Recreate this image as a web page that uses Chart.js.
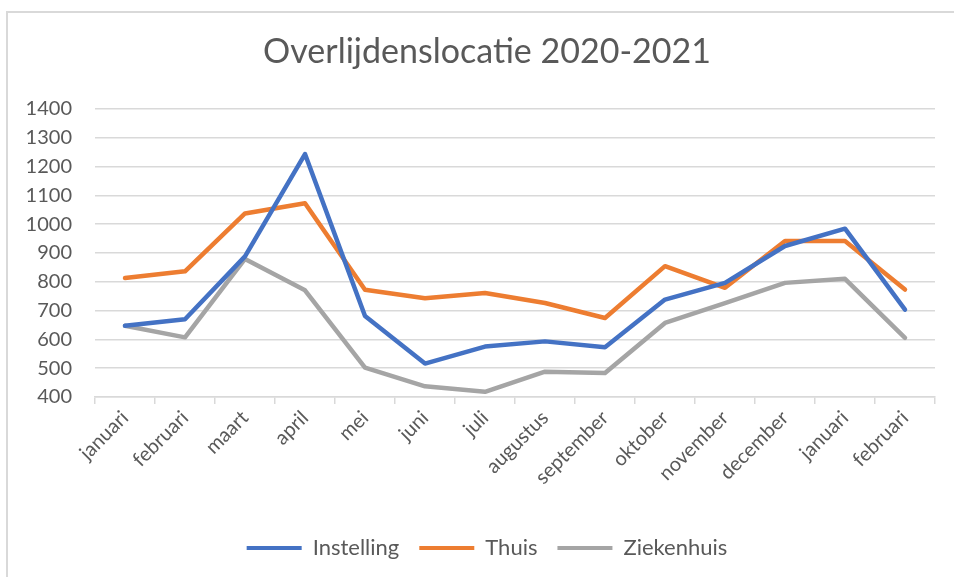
<!DOCTYPE html>
<html>
<head>
<meta charset="utf-8">
<script src="https://cdn.jsdelivr.net/npm/chart.js@4/dist/chart.umd.min.js"></script>
<style>
  html, body { margin: 0; padding: 0; background: #ffffff; }
  #wrap { position: relative; width: 954px; height: 577px; }
</style>
</head>
<body>
<div id="wrap"><canvas id="c" width="954" height="577"></canvas></div>
<script>
const categories = ["januari", "februari", "maart", "april", "mei", "juni", "juli", "augustus", "september", "oktober", "november", "december", "januari", "februari"];
const instelling = [647, 670, 888, 1243, 681, 516, 575, 593, 573, 738, 796, 924, 984, 703];
const thuis = [813, 836, 1037, 1072, 772, 743, 761, 726, 674, 854, 779, 941, 941, 773];
const ziekenhuis = [647, 607, 879, 770, 502, 437, 418, 488, 483, 657, 726, 796, 810, 605];
const seriesNames = ["Instelling", "Thuis", "Ziekenhuis"];
const titleText = "Overlijdenslocatie 2020-2021";
const yMin = 400, yMax = 1400, yStep = 100;

const colors = ["#4472C4", "#ED7D31", "#A5A5A5"];
const textColor = "#595959";
const gridColor = "#D9D9D9";
const fontFamily = "Lato, 'Open Sans', sans-serif";

const frame = {
  id: "frame",
  beforeDraw(chart) {
    const ctx = chart.ctx;
    ctx.save();
    ctx.fillStyle = "#ffffff";
    ctx.fillRect(0, 0, chart.width, chart.height);
    ctx.strokeStyle = "#D9D9D9";
    ctx.lineWidth = 2;
    ctx.beginPath();
    ctx.moveTo(7, chart.height);
    ctx.lineTo(7, 12);
    ctx.lineTo(chart.width, 12);
    ctx.stroke();
    ctx.restore();
  }
};

const datasets = [instelling, thuis, ziekenhuis].map((d, i) => ({
  label: seriesNames[i],
  data: d,
  borderColor: colors[i],
  backgroundColor: colors[i],
  borderWidth: 4.5,
  borderCapStyle: "round",
  borderJoinStyle: "round",
  pointRadius: 0,
  pointHoverRadius: 0,
  tension: 0,
  fill: false
}));

new Chart(document.getElementById("c"), {
  type: "line",
  data: { labels: categories, datasets },
  plugins: [frame],
  options: {
    responsive: false,
    animation: false,
    layout: { padding: { top: 32, left: 25, right: 5, bottom: 8 } },
    plugins: {
      title: {
        display: true,
        text: titleText,
        color: textColor,
        font: { family: fontFamily, size: 34, weight: "normal" },
        padding: { top: 0, bottom: 36 }
      },
      legend: {
        position: "bottom",
        labels: {
          color: textColor,
          font: { family: fontFamily, size: 22 },
          boxWidth: 55,
          boxHeight: 4,
          padding: 20,
          generateLabels(chart) {
            return Chart.defaults.plugins.legend.labels.generateLabels(chart).map(l => ({ ...l, lineWidth: 0 }));
          }
        }
      },
      tooltip: { enabled: false }
    },
    scales: {
      x: {
        offset: true,
        grid: { offset: true, drawOnChartArea: false, drawTicks: true, tickLength: 7, color: gridColor, lineWidth: 1.5 },
        border: { display: true, color: gridColor, width: 1.5 },
        ticks: {
          color: textColor,
          font: { family: fontFamily, size: 20 },
          autoSkip: false,
          maxRotation: 45,
          minRotation: 45,
          padding: 2
        },
        afterFit(scale) { scale.height = 120; scale.paddingLeft = 0; scale.paddingRight = 19; }
      },
      y: {
        min: yMin,
        max: yMax,
        grid: { drawTicks: false, color: gridColor, lineWidth: 1.5 },
        border: { display: false },
        ticks: {
          stepSize: yStep,
          color: textColor,
          font: { family: fontFamily, size: 20 },
          padding: 23,
          callback: (v) => String(v)
        },
        afterFit(scale) { scale.width = 70; }
      }
    }
  }
});
</script>
</body>
</html>
